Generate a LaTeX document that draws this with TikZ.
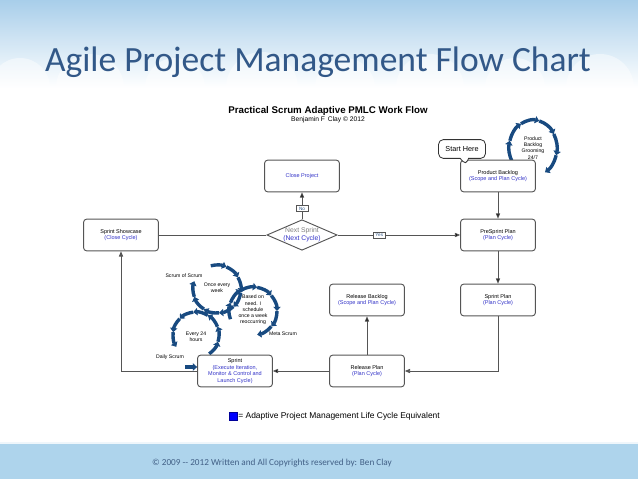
\documentclass[tikz,border=0pt]{standalone}
\usepackage{fontspec}
\setmainfont{Liberation Sans}
\newfontfamily\slidefont{Carlito}
\usepackage{tikz}
\usetikzlibrary{shapes.geometric,shapes.callouts,arrows.meta}

\definecolor{titleblue}{RGB}{50,88,136}
\definecolor{skyblue}{RGB}{168,206,234}
\definecolor{footblue}{RGB}{174,212,236}
\definecolor{ringblue}{RGB}{24,74,128}
\definecolor{cycleblue}{RGB}{50,50,200}
\definecolor{edgegray}{RGB}{85,85,85}

\begin{document}
\begin{tikzpicture}[x=0.03cm,y=-0.03cm,
	box/.style={shape=rectangle,draw=edgegray,line width=0.8pt,rounded corners=2.5pt,fill=white,
		minimum width=63.8pt,minimum height=27pt,align=center,font=\fontsize{4.7}{5.6}\selectfont,inner sep=1pt},
	tag/.style={shape=rectangle,draw=edgegray,line width=0.5pt,fill=white,font=\fontsize{4}{4.5}\selectfont,
		text=titleblue,inner sep=1.3pt,minimum width=10pt},
	flow/.style={draw=edgegray,line width=0.7pt,-{Triangle[length=4.5pt,width=3.6pt]}},
	line/.style={draw=edgegray,line width=0.7pt},
	ring/.style={draw=ringblue,line width=2.9pt,-{Triangle[length=3.6pt,width=6.2pt]}},
	small/.style={font=\fontsize{4.4}{5.3}\selectfont,align=center,inner sep=0pt}]

	\useasboundingbox (0,0) rectangle (638,479);

	% slide background
	\shade[top color=skyblue,bottom color=white] (0,0) rectangle (638,88);
	\foreach \cx/\cr in {20/30,90/34,175/30,262/36,345/30,430/34,515/30,600/34}
		\fill[white,opacity=0.45] (\cx,88) circle[radius=\cr];
	\fill[footblue] (0,443) rectangle (638,479);
	\draw[white!80!footblue,line width=1pt] (0,443) -- (638,443);

	\node[font=\slidefont\fontsize{30.3}{32}\selectfont,text=titleblue] (title) at (318,62) {Agile Project Management Flow Chart};
	\node[font=\slidefont\fontsize{7.85}{9}\selectfont,text=titleblue!80!gray] (copy) at (272,463) {© 2009 -- 2012 Written and All Copyrights reserved by: Ben Clay};

	\node[font=\bfseries\fontsize{8.3}{9}\selectfont] (head) at (328,111) {Practical Scrum Adaptive PMLC Work Flow};
	\node[font=\fontsize{5.7}{6}\selectfont] (byline) at (328,120) {Benjamin F\, Clay © 2012};

	% scrum cycles
	\foreach \a in {150,195,...,375}
		\draw[ring] (533,148) ++(\a:24 and 28) arc[start angle=\a,delta angle=45,x radius=24,y radius=28];
	\foreach \a in {255,293,...,521}
		\draw[ring] (217,289) ++(\a:24) arc[start angle=\a,delta angle=38,radius=24];
	\foreach \a in {160,200,...,400}
		\draw[ring] (253,311) ++(\a:24) arc[start angle=\a,delta angle=40,radius=24];
	\foreach \a in {55,17,...,-173}
		\draw[ring] (196,335) ++(\a:23) arc[start angle=\a,delta angle=-38,radius=23];

	\node[small] (grooming) at (533,148) {Product\\Backlog\\Grooming\\24/7};
	\node[small] (weekly) at (217,288) {Once every\\week};
	\node[small] (onneed) at (253,310) {Based on\\need. I\\schedule\\once a week\\reoccurring};
	\node[small] (daily) at (196,337) {Every 24\\hours};
	\node[small] (sos) at (184,276) {Scrum of Scrum};
	\node[small] (meta) at (283,334) {Meta Scrum};
	\node[small] (dailyscrum) at (170,357) {Daily Scrum};

	% work flow
	\node[box] (closeproject) at (302,176) {\textcolor{cycleblue}{Close Project}};
	\node[box] (backlog) at (498,176) {Product Backlog\\\textcolor{cycleblue}{(Scope and Plan Cycle)}};
	\node[box] (showcase) at (121,235) {Sprint Showcase\\\textcolor{cycleblue}{(Close Cycle)}};
	\node[box] (presprint) at (498,235) {PreSprint Plan\\\textcolor{cycleblue}{(Plan Cycle)}};
	\node[box] (sprintplan) at (498,300) {Sprint Plan\\\textcolor{cycleblue}{(Plan Cycle)}};
	\node[box] (releasebacklog) at (367,300) {Release Backlog\\\textcolor{cycleblue}{(Scope and Plan Cycle)}};
	\node[box] (releaseplan) at (367,371) {Release Plan\\\textcolor{cycleblue}{(Plan Cycle)}};
	\node[box] (sprint) at (235,371) {Sprint\\\textcolor{cycleblue}{(Execute Iteration,}\\\textcolor{cycleblue}{Monitor \& Control and}\\\textcolor{cycleblue}{Launch Cycle)}};
	\node[shape=diamond,draw=edgegray,line width=0.8pt,fill=white,aspect=2.3,inner sep=0pt,
		minimum width=58pt,minimum height=25.5pt,align=center,font=\fontsize{5.8}{6.8}\selectfont] (nextsprint) at (302,235)
		{\textcolor{gray}{Next Sprint}\\\textcolor{cycleblue}{(Next Cycle)}};
	\node[rectangle callout,draw=black!80,line width=0.7pt,fill=white,rounded corners=4pt,
		callout absolute pointer={(466,165)},minimum width=40pt,minimum height=16pt,
		font=\fontsize{6.2}{7}\selectfont] (starthere) at (462,149) {Start Here};

	\coordinate (dailyin) at (185,367);
	\draw[ring] (dailyin) -- (dailyin -| sprint.west);

	\path[flow] (backlog) edge (presprint);
	\path[flow] (presprint) edge (sprintplan);
	\draw[flow] (sprintplan.south) |- (releaseplan.east);
	\path[flow] (releaseplan) edge (releasebacklog);
	\path[flow] (releaseplan) edge (sprint);
	\draw[flow] (sprint.west) -| (showcase.south);
	\path[line] (showcase) edge (nextsprint);
	\path[flow] (nextsprint) edge node[tag,pos=0.34] {Yes} (presprint);
	\path[flow] (nextsprint) edge node[tag,pos=0.4] {No} (closeproject);

	% legend
	\node[shape=rectangle,fill=blue,draw=blue!60!black,line width=0.3pt,minimum size=6.5pt,inner sep=0pt] (key) at (233,416) {};
	\node[anchor=west,font=\fontsize{7.2}{8}\selectfont,inner sep=1pt] (keytext) at (key.east) {= Adaptive Project Management Life Cycle Equivalent};

\end{tikzpicture}
\end{document}
